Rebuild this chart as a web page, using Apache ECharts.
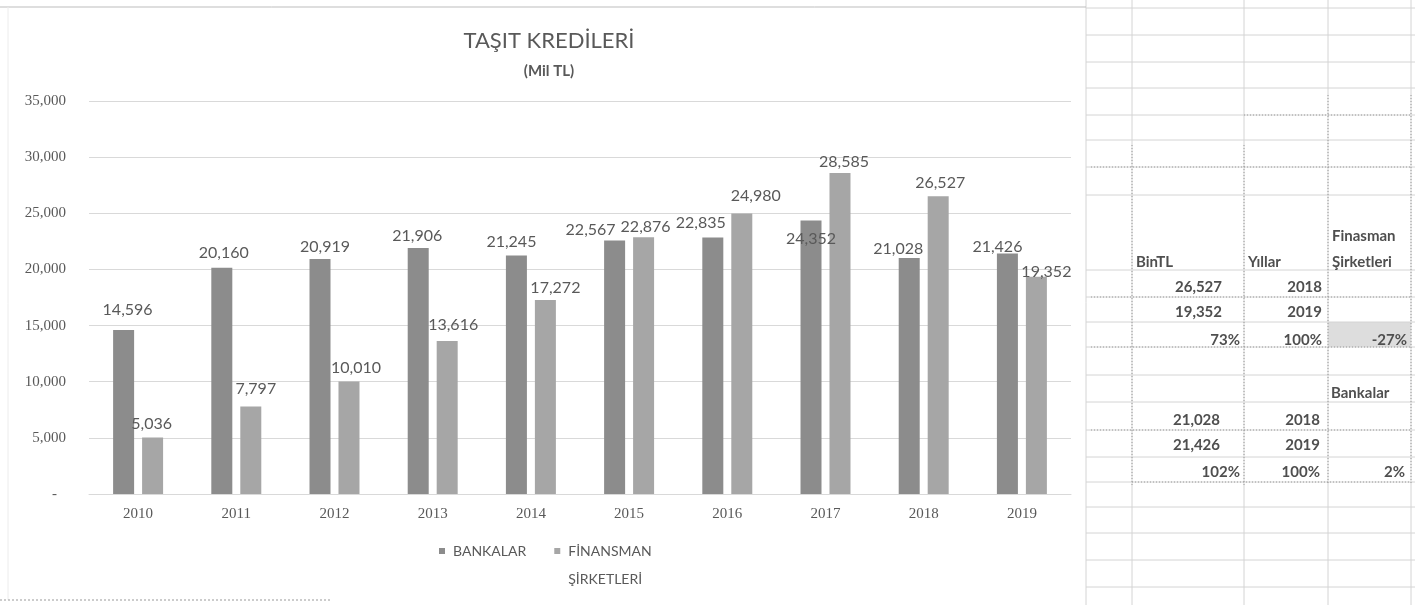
<!DOCTYPE html>
<html><head><meta charset="utf-8">
<script src="https://cdn.jsdelivr.net/npm/echarts@6/dist/echarts.min.js"></script>
<style>html,body{margin:0;padding:0;background:#fff}#c{width:1415px;height:605px}</style>
</head><body><div id="c"></div>
<script>
// ---- data ----
const years = ['2010','2011','2012','2013','2014','2015','2016','2017','2018','2019'];
const bankalar = [14596, 20160, 20919, 21906, 21245, 22567, 22835, 24352, 21028, 21426];
const finansman = [5036, 7797, 10010, 13616, 17272, 22876, 24980, 28585, 26527, 19352];
const seriesNames = ['BANKALAR', 'FİNANSMAN ŞİRKETLERİ'];
const compareYears = [2018, 2019];
const finansmanCompare = [26527, 19352];
const bankalarCompare = [21028, 21426];

// ---- label nudges (style only) ----
const bankNudge = [[4,-7],[2,-2],[5,1],[-1,1],[-5,-1],[-24,2],[-12,-2],[0,31],[-11,4],[-10,6]];
const finNudge  = [[-1,-1],[5,-5],[7,-1],[6,-3],[10,1],[2,3],[14,-5],[4,2],[2,0],[10,8]];

const fmt = v => Number(v).toLocaleString('en-US');
const TXT = '#595959';

const labelBase = {show:true, position:'top', distance:5, color:TXT, fontFamily:'Lato', fontSize:16,
  formatter: p => fmt(p.value)};

// ---- spreadsheet graphics ----
const rowYs = [8,35,62,88,115,140,167,195,270,297,322,347,375,402,430,457,482,507,533,560,587];
const colXs = [1086,1132,1244,1328,1411];
const g = [];
g.push({type:'rect', shape:{x:1328,y:322,width:83,height:25}, style:{fill:'#dddddd'}, z:1});
rowYs.forEach(y => g.push({type:'line', shape:{x1:1086,y1:y,x2:1415,y2:y}, style:{stroke:'#d4d4d4',lineWidth:1}, z:2}));
colXs.forEach(x => g.push({type:'line', shape:{x1:x,y1:0,x2:x,y2:605}, style:{stroke:'#d4d4d4',lineWidth:1}, z:2}));
[[1132,145,485],[1244,145,485],[1328,95,485],[1411,95,485]].forEach(([x,a,b]) =>
  g.push({type:'line', shape:{x1:x,y1:a,x2:x,y2:b}, style:{stroke:'#9a9a9a',lineWidth:1,lineDash:[1,2]}, z:3}));
[[167,1091,1411],[297,1091,1411],[347,1091,1411],[430,1091,1411],[482,1132,1411],[115,1244,1411]].forEach(([y,a,b]) =>
  g.push({type:'line', shape:{x1:a,y1:y,x2:b,y2:y}, style:{stroke:'#9a9a9a',lineWidth:1,lineDash:[1,2]}, z:3}));
// page / chart frame
g.push({type:'line', shape:{x1:0,y1:7,x2:1086,y2:7}, style:{stroke:'#bdbdbd',lineWidth:1}, z:2});
g.push({type:'line', shape:{x1:8,y1:7,x2:8,y2:600}, style:{stroke:'#ececec',lineWidth:1}, z:2});
g.push({type:'line', shape:{x1:0,y1:600,x2:330,y2:600}, style:{stroke:'#9a9a9a',lineWidth:1,lineDash:[2,2]}, z:2});

const T = (text, x, y, align) => g.push({type:'text', x, y, z:5,
  style:{text, fill:'#4f4f4f', font:'bold 15px Lato', align, verticalAlign:'middle', textAlign:align, textVerticalAlign:'middle'}});
T('BinTL', 1136, 262, 'left');
T('Yıllar', 1248, 262, 'left');
T('Finasman', 1332, 236, 'left');
T('Şirketleri', 1332, 262, 'left');
const finYs = [287, 312], bankYs = [420, 445];
finansmanCompare.forEach((v,i) => { T(fmt(v), 1222, finYs[i], 'right'); T(String(compareYears[i]), 1322, finYs[i], 'right'); });
const finRatio = Math.round(finansmanCompare[1]/finansmanCompare[0]*100);
T(finRatio + '%', 1240, 340, 'right'); T('100%', 1322, 340, 'right'); T((finRatio-100) + '%', 1407, 340, 'right');
T('Bankalar', 1331, 393, 'left');
bankalarCompare.forEach((v,i) => { T(fmt(v), 1220, bankYs[i], 'right'); T(String(compareYears[i]), 1320, bankYs[i], 'right'); });
const bankRatio = Math.round(bankalarCompare[1]/bankalarCompare[0]*100);
T(bankRatio + '%', 1240, 472, 'right'); T('100%', 1320, 472, 'right'); T((bankRatio-100) + '%', 1405, 472, 'right');

const legendRich = {t:{fontFamily:'Lato', fontSize:14, color:TXT, lineHeight:28, padding:[0,0,0,3]}};

const chart = echarts.init(document.getElementById('c'), null, {renderer:'canvas'});
chart.setOption({
  animation:false,
  backgroundColor:'#ffffff',
  title:{text:'TAŞIT KREDİLERİ', subtext:'(Mil TL)', left:544, top:25, textAlign:'center', itemGap:12,
    textStyle:{fontFamily:'Lato', fontSize:22, fontWeight:'normal', color:TXT},
    subtextStyle:{fontFamily:'Lato', fontSize:15, fontWeight:'bold', color:TXT}},
  legend:{left:439, top:516, padding:0, itemWidth:6, itemHeight:6, itemGap:28, icon:'rect',
    textStyle:{fontFamily:'Lato', fontSize:14, color:TXT, rich:legendRich},
    data:seriesNames,
    formatter: n => n === seriesNames[1] ? '{t|\u00a0}\n{t|FİNANSMAN}\n{t|ŞİRKETLERİ}' : '{t|' + n + '}'},
  grid:{left:89, right:344, top:101, bottom:111},
  xAxis:{type:'category', data:years, axisTick:{show:false},
    axisLine:{lineStyle:{color:'#d9d9d9'}},
    axisLabel:{margin:13, color:TXT, fontFamily:'Liberation Serif', fontSize:15}},
  yAxis:{type:'value', min:0, max:35000, interval:5000,
    axisLine:{show:false}, axisTick:{show:false},
    splitLine:{lineStyle:{color:'#d9d9d9'}},
    axisLabel:{margin:23, color:TXT, fontFamily:'Liberation Serif', fontSize:15,
      formatter: v => v === 0 ? '{z|-}' : fmt(v),
      rich:{z:{padding:[0,9,0,0], color:TXT, fontFamily:'Liberation Serif', fontSize:15}}}},
  series:[
    {name:seriesNames[0], type:'bar', barWidth:21, barGap:'38%', itemStyle:{color:'#8c8c8c'},
     label:labelBase, data: bankalar.map((v,i)=>({value:v, label:{offset:bankNudge[i]}}))},
    {name:seriesNames[1], type:'bar', barWidth:21, itemStyle:{color:'#a6a6a6'},
     label:labelBase, data: finansman.map((v,i)=>({value:v, label:{offset:finNudge[i]}}))}
  ],
  graphic:g
});
</script></body></html>
